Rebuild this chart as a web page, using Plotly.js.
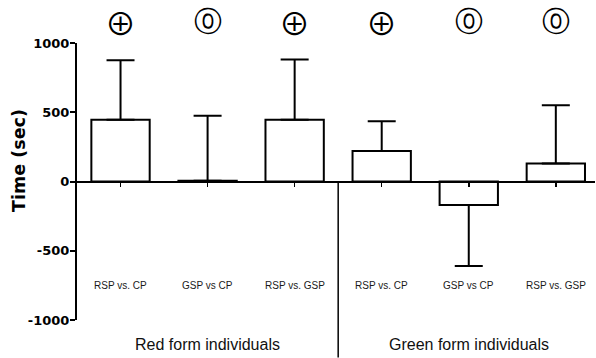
<!DOCTYPE html>
<html>
<head>
<meta charset="utf-8">
<script src="https://cdn.plot.ly/plotly-3.0.1.min.js"></script>
<style>html,body{margin:0;padding:0;background:#fff;}#chart{width:596px;height:358px;}</style>
</head>
<body>
<div id="chart"></div>
<script>
// Data
const comparisons = ["RSP vs. CP", "GSP vs CP", "RSP vs. GSP", "RSP vs. CP", "GSP vs CP", "RSP vs. GSP"];
const groups = ["Red form individuals", "Green form individuals"];
const groupOfBar = [0, 0, 0, 1, 1, 1];
const meanTime = [445, 5, 445, 220, -170, 130];
const errorUp = [430, 470, 435, 215, 0, 420];
const errorDown = [0, 0, 0, 0, 440, 0];
const significance = ["\u2295", "\u24EA", "\u2295", "\u2295", "\u24EA", "\u24EA"];
const yTicks = [-1000, -500, 0, 500, 1000];
const yTickText = ["-1000", "-500", "0", "500", "1000"];

const xs = comparisons.map((_, i) => i);
const symbolFont = {
  "\u2295": { family: "Noto Sans CJK JP", size: 31, color: "#000" },
  "\u24EA": { family: "DejaVu Sans", size: 28, color: "#000" }
};

const trace = {
  type: "bar",
  x: xs,
  y: meanTime,
  width: 0.67,
  marker: { color: "#ffffff", line: { color: "#000000", width: 2 } },
  error_y: {
    type: "data", symmetric: false,
    array: errorUp, arrayminus: errorDown,
    color: "#000000", thickness: 2, width: 14
  },
  hoverinfo: "none"
};

const annotations = [];
xs.forEach((x, i) => {
  annotations.push({
    x: x, xref: "x", y: 1, yref: "paper", yshift: 22, yanchor: "middle",
    text: significance[i], showarrow: false,
    font: symbolFont[significance[i]]
  });
  annotations.push({
    x: x, xref: "x", y: -750, yref: "y", yanchor: "middle",
    text: comparisons[i], showarrow: false,
    font: { family: "Liberation Sans", size: 10, color: "#1a1a1a" }
  });
});

groups.forEach((g, gi) => {
  const members = xs.filter((x, i) => groupOfBar[i] === gi);
  const center = (members[0] + members[members.length - 1]) / 2;
  annotations.push({
    x: center, xref: "x", y: -0.09, yref: "paper", yanchor: "middle",
    text: g, showarrow: false,
    font: { family: "Liberation Sans", size: 16, color: "#111" }
  });
});
annotations.push({
  x: -0.112, xref: "paper", y: 0.578, yref: "paper", textangle: -90,
  text: "Time (sec)", showarrow: false, xanchor: "center", yanchor: "middle",
  font: { family: "DejaVu Sans", size: 17.5, color: "#000", weight: "bold" }
});

const layout = {
  width: 596, height: 358,
  margin: { l: 77, r: 1, t: 43, b: 38 },
  paper_bgcolor: "#fff", plot_bgcolor: "#fff",
  showlegend: false,
  xaxis: {
    range: [-0.5, 5.45], anchor: "free", position: 0.5,
    showline: true, linecolor: "#000", linewidth: 2,
    ticks: "outside", ticklen: 4, tickwidth: 1.5, tickcolor: "#000",
    tickvals: xs, showticklabels: false, showgrid: false, zeroline: false, fixedrange: true
  },
  yaxis: {
    range: [-1000, 1000], tickvals: yTicks, ticktext: yTickText,
    showline: true, linecolor: "#000", linewidth: 2,
    ticks: "outside", ticklen: 5, tickwidth: 2, tickcolor: "#000",
    ticklabelstandoff: -2,
    tickfont: { family: "DejaVu Sans", size: 13, color: "#000", weight: "bold" },
    showgrid: false, zeroline: false, fixedrange: true
  },
  shapes: [{
    type: "line", xref: "x", yref: "paper",
    x0: 2.5, x1: 2.5, y0: 0.5, y1: -0.135,
    line: { color: "#000", width: 1.5 }
  }],
  annotations: annotations
};

Plotly.newPlot("chart", [trace], layout, { displayModeBar: false, staticPlot: true });
</script>
</body>
</html>
